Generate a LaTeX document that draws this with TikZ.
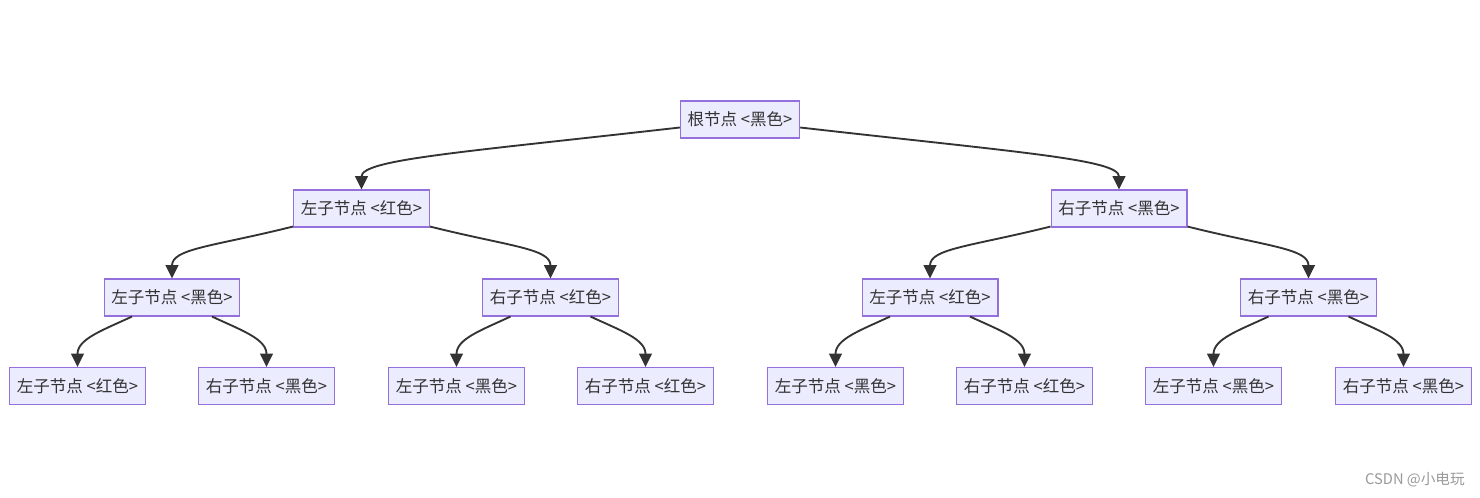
\documentclass[tikz,border=0pt]{standalone}
\usepackage{fontspec}
\setmainfont{Noto Sans CJK SC}
\usetikzlibrary{arrows.meta}
\usetikzlibrary{calc}

\definecolor{nodefill}{HTML}{ECECFF}
\definecolor{nodeborder}{HTML}{9370DB}
\definecolor{nodetext}{HTML}{333333}
\definecolor{marktext}{HTML}{999999}

\begin{document}
\begin{tikzpicture}[x=0.75pt,y=-0.75pt]
				\tikzstyle{rb}=[rectangle,draw=nodeborder,fill=nodefill,line width=0.8pt,text=nodetext,inner xsep=5.5pt,minimum height=27.75pt,font=\fontsize{12.4}{14}\selectfont]
				\tikzstyle{edge}=[draw=nodetext,line width=1.4pt,-{Triangle[length=10pt,width=9.5pt]}]
				\useasboundingbox (0,0) rectangle (1480,497);
				% levels
				\node[rb] (root) at (740,119.5) {根节点 <黑色>};
				\node[rb] (a) at (361.5,208.5) {左子节点 <红色>};
				\node[rb] (b) at (1119,208.5) {右子节点 <黑色>};
				\node[rb] (aa) at (172,297.5) {左子节点 <黑色>};
				\node[rb] (ab) at (550.5,297.5) {右子节点 <红色>};
				\node[rb] (ba) at (930,297.5) {左子节点 <红色>};
				\node[rb] (bb) at (1308.5,297.5) {右子节点 <黑色>};
				\node[rb] (aaa) at (77.5,386) {左子节点 <红色>};
				\node[rb] (aab) at (266.5,386) {右子节点 <黑色>};
				\node[rb] (aba) at (456.5,386) {左子节点 <黑色>};
				\node[rb] (abb) at (645.5,386) {右子节点 <红色>};
				\node[rb] (baa) at (835.5,386) {左子节点 <黑色>};
				\node[rb] (bab) at (1024.5,386) {右子节点 <红色>};
				\node[rb] (bba) at (1213.5,386) {左子节点 <黑色>};
				\node[rb] (bbb) at (1403.5,386) {右子节点 <黑色>};
				% edges
				\draw[edge] ($(root.west)+(0,8)$) .. controls +(-220,25) and +(0,-30) .. (a.north);
				\draw[edge] ($(root.east)+(0,8)$) .. controls +(220,25) and +(0,-30) .. (b.north);
				\foreach \p/\l/\r in {a/aa/ab, b/ba/bb}{
					\draw[edge] ($(\p.south west)+(0,-1)$) .. controls +(-80,20) and +(0,-30) .. (\l.north);
					\draw[edge] ($(\p.south east)+(0,-1)$) .. controls +(80,20) and +(0,-30) .. (\r.north);
				}
				\foreach \p/\l/\r in {aa/aaa/aab, ab/aba/abb, ba/baa/bab, bb/bba/bbb}{
					\draw[edge] ($(\p.south)+(-40,0)$) .. controls +(-30,14) and +(0,-28) .. (\l.north);
					\draw[edge] ($(\p.south)+(40,0)$) .. controls +(30,14) and +(0,-28) .. (\r.north);
				}
				\node[text=marktext,font=\fontsize{11}{12}\selectfont] (mark) at (1415,480) {CSDN @小电玩};
\end{tikzpicture}
\end{document}
